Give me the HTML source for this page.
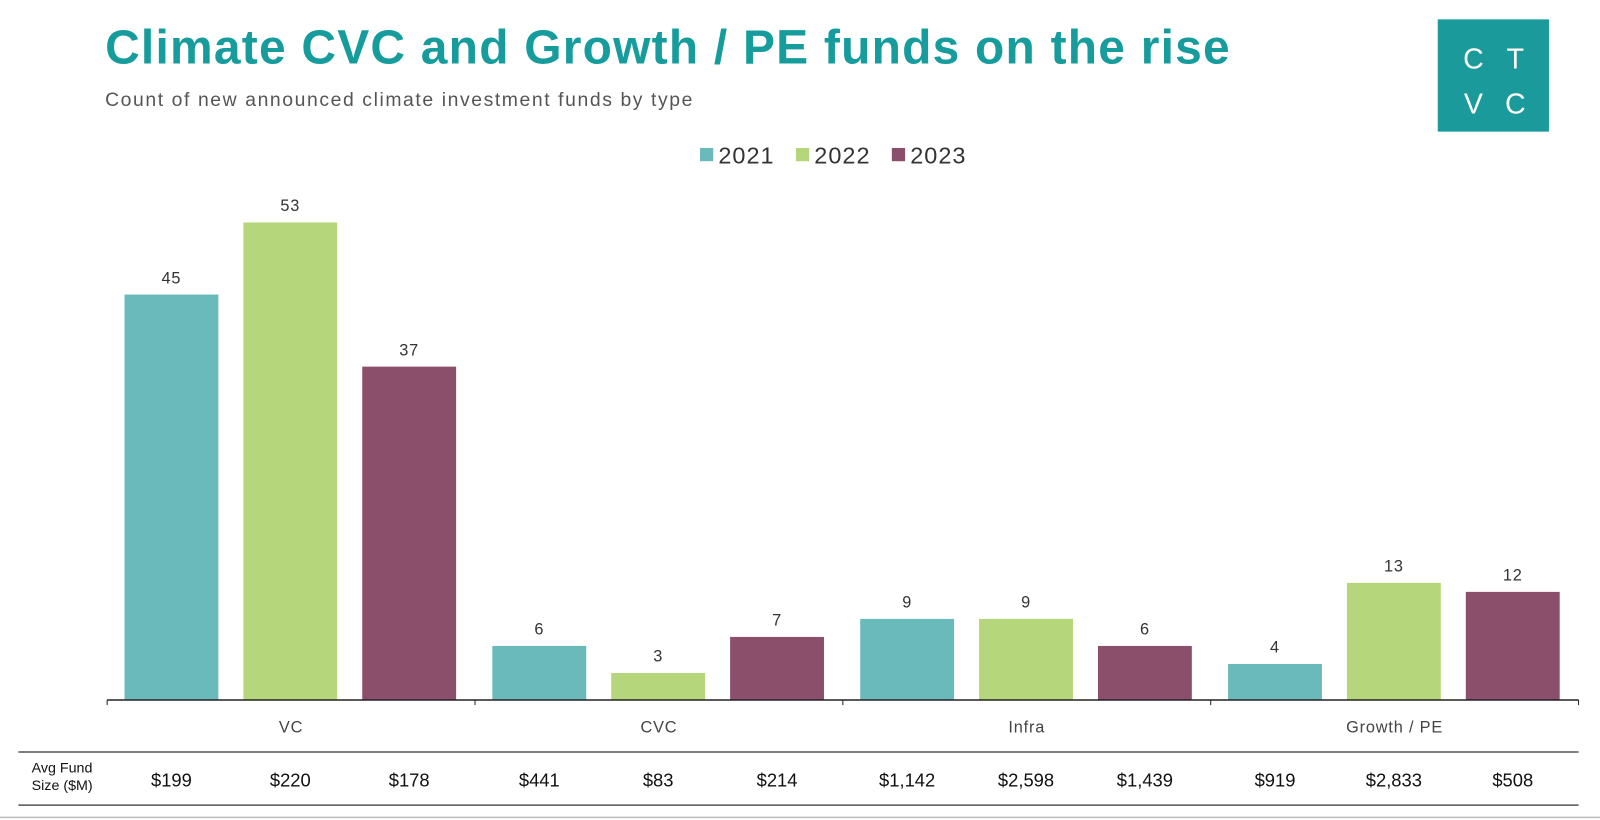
<!DOCTYPE html>
<html><head><meta charset="utf-8"><style>
body{margin:0;background:#fff;font-family:"Liberation Sans",sans-serif;}
#wrap{position:relative;width:1600px;height:820px;overflow:hidden;}
</style></head><body>
<div id="wrap">
<svg id="svg" width="1600" height="820">
<g transform="scale(1.0204)">
<text x="103" y="62" font-size="47" font-weight="bold" fill="#169c9c" letter-spacing="1.2">Climate CVC and Growth / PE funds on the rise</text>
<text x="103" y="104" font-size="19" fill="#555" letter-spacing="1.55">Count of new announced climate investment funds by type</text>
<g>
<rect x="1409" y="19" width="109" height="110" fill="#1a9a9a"/>
<text x="1444" y="67" font-size="28" fill="#fff" text-anchor="middle">C</text>
<text x="1485" y="67" font-size="28" fill="#fff" text-anchor="middle">T</text>
<text x="1444" y="111" font-size="28" fill="#fff" text-anchor="middle">V</text>
<text x="1485" y="111" font-size="28" fill="#fff" text-anchor="middle">C</text>
</g>
<g id="legend"></g>
<g id="bars"></g>
<g id="axis"></g>
<g id="table"></g>
</g>
</svg>
</div>
<script>
const categories=["VC","CVC","Infra","Growth / PE"];
const years=["2021","2022","2023"];
const counts2021=[45,6,9,4];
const counts2022=[53,3,9,13];
const counts2023=[37,7,6,12];
const fundSizes=["$199","$220","$178","$441","$83","$214","$1,142","$2,598","$1,439","$919","$2,833","$508"];
const colors=["#6bbabb","#b5d67a","#8b4f6c"];
const NS="http://www.w3.org/2000/svg";
function mk(t,a,p){const e=document.createElementNS(NS,t);for(const k in a)e.setAttribute(k,a[k]);p.appendChild(e);return e;}
const x0=105,x1=1547,base=686,ppu=8.83;
const gw=(x1-x0)/categories.length;
const y=v=>base-v*ppu;
const series=[counts2021,counts2022,counts2023];
const bars=document.getElementById('bars');
categories.forEach((c,i)=>{
  series.forEach((s,j)=>{
    const bx=x0+i*gw+17+j*116.5;
    const r=mk('rect',{x:bx,y:y(s[i]),width:92,height:s[i]*ppu,fill:colors[j]},bars);
    
    
    const t=mk('text',{x:bx+46,y:y(s[i])-11,'font-size':16,fill:'#333','text-anchor':'middle','letter-spacing':0.8},bars);
    t.textContent=s[i];
    
    
    const f=mk('text',{x:bx+46,y:771,'font-size':18,fill:'#111','text-anchor':'middle'},document.getElementById('table'));
    f.textContent=fundSizes[i*3+j];
    
    
  });
  const l=mk('text',{x:x0+i*gw+gw/2,y:718,'font-size':16,fill:'#444','text-anchor':'middle','letter-spacing':0.8},document.getElementById('axis'));
  l.textContent=c;
  
  
});
const ax=document.getElementById('axis');
const al=mk('line',{x1:x0,x2:x1,y1:base,y2:base,stroke:'#222','stroke-width':1.5},ax);


for(let i=0;i<=categories.length;i++){mk('line',{x1:x0+i*gw,x2:x0+i*gw,y1:base,y2:base+5,stroke:'#222'},ax);}
const tb=document.getElementById('table');
mk('line',{x1:18,x2:1547,y1:737,y2:737,stroke:'#555','stroke-width':1.5},tb);
mk('line',{x1:18,x2:1547,y1:789,y2:789,stroke:'#555','stroke-width':1.5},tb);
mk('line',{x1:0,x2:1600,y1:801,y2:801,stroke:'#bbb','stroke-width':1.5},tb);
const h1=mk('text',{x:31,y:757,'font-size':14,fill:'#111'},tb);h1.textContent='Avg Fund';
const h2=mk('text',{x:31,y:774,'font-size':14,fill:'#111'},tb);h2.textContent='Size ($M)';


const lg=document.getElementById('legend');
const lx=[686,780,874];
years.forEach((yr,j)=>{
  const g=mk('g',{},lg);
  
  
  mk('rect',{x:lx[j],y:145,width:13,height:13,fill:colors[j]},g);
  const t=mk('text',{x:lx[j]+18,y:160,'font-size':23,fill:'#333','letter-spacing':1},g);t.textContent=yr;
});
</script>
</body></html>
